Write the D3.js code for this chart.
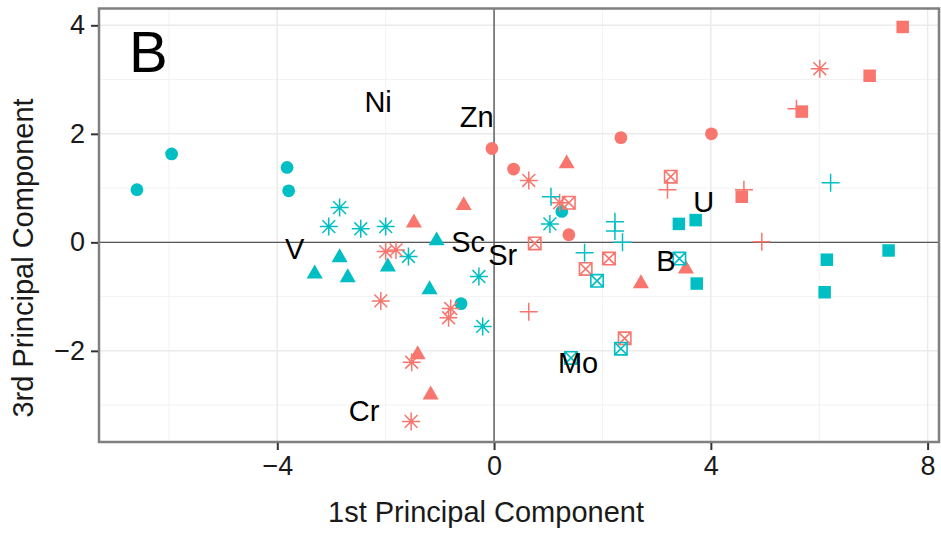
<!DOCTYPE html>
<html>
<head>
<meta charset="utf-8">
<script src="https://cdn.jsdelivr.net/npm/d3@7"></script>
<style>
  html, body { margin: 0; padding: 0; background: #ffffff; }
  svg { display: block; font-family: "Liberation Sans", Arial, Helvetica, sans-serif; }
</style>
</head>
<body>
<svg id="chart" width="941" height="533"></svg>
<script>
// Sample scores on PC1 / PC3, grouped by colour (two groups) and by marker type.
const pc1 = [
  // group A, circles
  -6.59, -5.95, -3.82, -3.79, 1.25, -0.61,
  // group B, circles
  -0.04, 0.36, 2.34, 4.01, 1.38,
  // group A, triangles
  -3.31, -2.85, -2.70, -1.96, -1.06, -1.19,
  // group B, triangles
  -1.48, -0.56, 1.34, -1.41, -1.17, 2.71, 3.54,
  // group A, asterisks
  -2.85, -3.05, -2.46, -2.00, -1.58, -0.28, -0.21, 1.03,
  // group B, asterisks
  -2.00, -1.81, -2.09, -0.80, -0.84, -1.52, -1.53, 0.64, 6.01, 1.21,
  // group A, plus
  1.05, 2.23, 2.23, 1.67, 2.37, 6.21,
  // group B, plus
  3.20, 4.61, 4.94, 5.58, 0.64,
  // group B, squares
  7.54, 6.93, 5.68, 4.57,
  // group A, squares
  3.41, 3.72, 3.74, 6.14, 6.10, 7.28,
  // group B, boxed crosses
  0.75, 1.38, 3.26, 1.69, 2.12, 2.41,
  // group A, boxed crosses
  1.90, 3.42, 2.34, 1.42
];
const pc3 = [
  0.97, 1.63, 1.38, 0.95, 0.57, -1.13,
  1.73, 1.35, 1.93, 2.00, 0.14,
  -0.58, -0.28, -0.65, -0.45, 0.03, -0.87,
  0.36, 0.68, 1.45, -2.07, -2.81, -0.76, -0.49,
  0.64, 0.29, 0.25, 0.29, -0.26, -0.63, -1.55, 0.34,
  -0.17, -0.14, -1.08, -1.22, -1.39, -2.21, -3.30, 1.14, 3.20, 0.73,
  0.84, 0.38, 0.21, -0.19, 0.00, 1.10,
  0.97, 0.97, 0.01, 2.46, -1.28,
  3.97, 3.07, 2.41, 0.84,
  0.34, 0.41, -0.76, -0.32, -0.92, -0.15,
  -0.02, 0.73, 1.21, -0.49, -0.30, -1.77,
  -0.71, -0.30, -1.96, -2.13
];
const colourGroup = [
  "A","A","A","A","A","A",
  "B","B","B","B","B",
  "A","A","A","A","A","A",
  "B","B","B","B","B","B","B",
  "A","A","A","A","A","A","A","A",
  "B","B","B","B","B","B","B","B","B","B",
  "A","A","A","A","A","A",
  "B","B","B","B","B",
  "B","B","B","B",
  "A","A","A","A","A","A",
  "B","B","B","B","B","B",
  "A","A","A","A"
];
const markerType = [
  "circle","circle","circle","circle","circle","circle",
  "circle","circle","circle","circle","circle",
  "triangle","triangle","triangle","triangle","triangle","triangle",
  "triangle","triangle","triangle","triangle","triangle","triangle","triangle",
  "asterisk","asterisk","asterisk","asterisk","asterisk","asterisk","asterisk","asterisk",
  "asterisk","asterisk","asterisk","asterisk","asterisk","asterisk","asterisk","asterisk","asterisk","asterisk",
  "plus","plus","plus","plus","plus","plus",
  "plus","plus","plus","plus","plus",
  "square","square","square","square",
  "square","square","square","square","square","square",
  "boxcross","boxcross","boxcross","boxcross","boxcross","boxcross",
  "boxcross","boxcross","boxcross","boxcross"
];

// Element labels (variable loadings) placed on the same axes
const elementNames = ["Ni", "Zn", "U", "V", "Sc", "Sr", "B", "Mo", "Cr"];
const elementPc1   = [-2.14, -0.32, 3.87, -3.68, -0.48, 0.16, 3.17, 1.55, -2.40];
const elementPc3   = [2.59, 2.31, 0.75, -0.12, 0.01, -0.23, -0.34, -2.23, -3.10];

const xTicks = [-4, 0, 4, 8];
const yTicks = [-2, 0, 2, 4];
const xMinor = [-6, -2, 2, 6];
const yMinor = [-3, -1, 1, 3];
const xDomain = [-7.29, 8.21];
const yDomain = [-3.68, 4.31];

const panelLabel = "B";
const xTitle = "1st Principal Component";
const yTitle = "3rd Principal Component";

const palette = { A: "#00BFC4", B: "#F8766D" };

const svg = d3.select("#chart");
const panel = { left: 99, right: 939, top: 8.5, bottom: 442 };

const x = d3.scaleLinear().domain(xDomain).range([panel.left, panel.right]);
const y = d3.scaleLinear().domain(yDomain).range([panel.bottom, panel.top]);

const fmt = v => (v < 0 ? "\u2212" + Math.abs(v) : String(v));

// panel background
svg.append("rect")
  .attr("x", panel.left).attr("y", panel.top)
  .attr("width", panel.right - panel.left).attr("height", panel.bottom - panel.top)
  .attr("fill", "#ffffff");

// grid
const grid = svg.append("g");
grid.selectAll(".xminor").data(xMinor).join("line")
  .attr("x1", d => x(d)).attr("x2", d => x(d))
  .attr("y1", panel.top).attr("y2", panel.bottom)
  .attr("stroke", "#F2F2F2").attr("stroke-width", 1);
grid.selectAll(".yminor").data(yMinor).join("line")
  .attr("y1", d => y(d)).attr("y2", d => y(d))
  .attr("x1", panel.left).attr("x2", panel.right)
  .attr("stroke", "#F2F2F2").attr("stroke-width", 1);
grid.selectAll(".xmajor").data(xTicks).join("line")
  .attr("x1", d => x(d)).attr("x2", d => x(d))
  .attr("y1", panel.top).attr("y2", panel.bottom)
  .attr("stroke", "#EBEBEB").attr("stroke-width", 1.5);
grid.selectAll(".ymajor").data(yTicks).join("line")
  .attr("y1", d => y(d)).attr("y2", d => y(d))
  .attr("x1", panel.left).attr("x2", panel.right)
  .attr("stroke", "#EBEBEB").attr("stroke-width", 1.5);

// zero reference lines
svg.append("line")
  .attr("x1", x(0)).attr("x2", x(0)).attr("y1", panel.top).attr("y2", panel.bottom)
  .attr("stroke", "#595959").attr("stroke-width", 1.4);
svg.append("line")
  .attr("y1", y(0)).attr("y2", y(0)).attr("x1", panel.left).attr("x2", panel.right)
  .attr("stroke", "#595959").attr("stroke-width", 1.4);

// marker paths
const sym = {
  circle: d3.symbol().type(d3.symbolCircle).size(Math.PI * 6.4 * 6.4)(),
  triangle: d3.symbol().type(d3.symbolTriangle).size(112)(),
  square: d3.symbol().type(d3.symbolSquare).size(12.5 * 12.5)(),
};
function strokedPath(kind) {
  const p = d3.path();
  if (kind === "plus") {
    p.moveTo(-9, 0); p.lineTo(9, 0); p.moveTo(0, -9); p.lineTo(0, 9);
  } else if (kind === "asterisk") {
    const r = 9, q = 6.4;
    p.moveTo(-r, 0); p.lineTo(r, 0); p.moveTo(0, -r); p.lineTo(0, r);
    p.moveTo(-q, -q); p.lineTo(q, q); p.moveTo(-q, q); p.lineTo(q, -q);
  } else if (kind === "boxcross") {
    const h = 6.2;
    p.rect(-h, -h, 2 * h, 2 * h);
    p.moveTo(-h, -h); p.lineTo(h, h); p.moveTo(-h, h); p.lineTo(h, -h);
  }
  return p.toString();
}

const points = pc1.map((v, i) => ({ x: v, y: pc3[i], g: colourGroup[i], m: markerType[i] }));

const marks = svg.append("g");
marks.selectAll("path").data(points).join("path")
  .attr("transform", d => `translate(${x(d.x)},${y(d.y)})`)
  .attr("d", d => sym[d.m] || strokedPath(d.m))
  .attr("fill", d => sym[d.m] ? palette[d.g] : "none")
  .attr("stroke", d => sym[d.m] ? "none" : palette[d.g])
  .attr("stroke-width", d => d.m === "boxcross" ? 1.6 : 1.5);

// element labels
svg.append("g").selectAll("text").data(elementNames).join("text")
  .attr("x", (d, i) => x(elementPc1[i]))
  .attr("y", (d, i) => y(elementPc3[i]))
  .attr("text-anchor", "middle")
  .attr("dominant-baseline", "central")
  .attr("font-size", 29)
  .attr("fill", "#000000")
  .text(d => d);

// panel border
svg.append("rect")
  .attr("x", panel.left).attr("y", panel.top)
  .attr("width", panel.right - panel.left).attr("height", panel.bottom - panel.top)
  .attr("fill", "none").attr("stroke", "#808080").attr("stroke-width", 2.5);

// panel tag
svg.append("text")
  .attr("x", 129).attr("y", 72)
  .attr("font-size", 58).attr("fill", "#000000")
  .text(panelLabel);

// axes
const xAxis = d3.axisBottom(x).tickValues(xTicks).tickFormat(fmt).tickSize(7).tickPadding(6);
const yAxis = d3.axisLeft(y).tickValues(yTicks).tickFormat(fmt).tickSize(7).tickPadding(6);

const gx = svg.append("g").attr("transform", `translate(0,${panel.bottom + 1})`).call(xAxis);
const gy = svg.append("g").attr("transform", `translate(${panel.left - 1},0)`).call(yAxis);
[gx, gy].forEach(g => {
  g.select(".domain").remove();
  g.selectAll(".tick line").attr("stroke", "#333333").attr("stroke-width", 2);
  g.selectAll(".tick text").attr("font-size", 27).attr("fill", "#1a1a1a")
    .attr("font-family", "'Liberation Sans', Arial, sans-serif");
});

// axis titles
svg.append("text")
  .attr("x", 486).attr("y", 522)
  .attr("text-anchor", "middle").attr("font-size", 29).attr("fill", "#1a1a1a")
  .text(xTitle);
svg.append("text")
  .attr("transform", "translate(33,258) rotate(-90)")
  .attr("text-anchor", "middle").attr("font-size", 29).attr("fill", "#1a1a1a")
  .text(yTitle);
</script>
</body>
</html>
